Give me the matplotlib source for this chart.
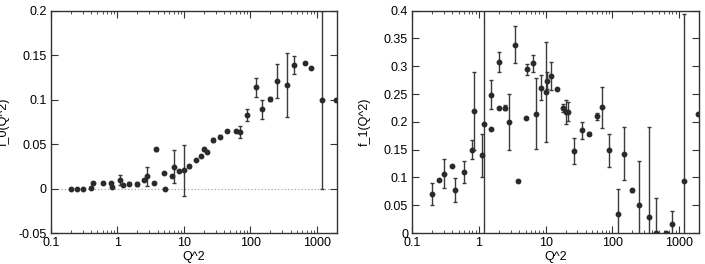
import matplotlib
matplotlib.use("Agg")
import matplotlib.pyplot as plt
from matplotlib.ticker import LogLocator, NullFormatter

plt.rcParams["font.family"] = ["Liberation Sans", "DejaVu Sans"]
plt.rcParams["font.size"] = 9

# f_0(Q^2): Q^2, value, symmetric error
q2_f0 = [0.2, 0.25, 0.3, 0.4, 0.43, 0.6, 0.8, 0.84, 1.1, 1.2, 1.5, 2.0,
         2.5, 2.8, 3.5, 3.8, 5.0, 5.2, 6.5, 7.2, 8.4, 10, 12, 15, 18, 20,
         22, 27, 35, 45, 60, 70, 90, 120, 150, 200, 250, 350, 450, 650,
         800, 1200, 1950]
f0 = [0.0, 0.0, 0.0, 0.001, 0.0067, 0.0067, 0.006, 0.002, 0.0097, 0.004,
      0.0055, 0.005, 0.0097, 0.0138, 0.0067, 0.044, 0.0176, 0.0, 0.0138,
      0.0244, 0.020, 0.0205, 0.025, 0.032, 0.037, 0.044, 0.041, 0.0547,
      0.0584, 0.0644, 0.0652, 0.0637, 0.083, 0.114, 0.089, 0.101, 0.121,
      0.116, 0.139, 0.141, 0.136, 0.1, 0.1]
f0_err = [0, 0, 0, 0, 0.001, 0.001, 0.0005, 0.0005, 0.0055, 0, 0.002,
          0.002, 0.001, 0.0105, 0.001, 0.0015, 0, 0, 0, 0.0187, 0, 0.0285,
          0.002, 0, 0, 0.002, 0.001, 0.0025, 0.0015, 0.001, 0.001, 0.0068,
          0.0065, 0.0105, 0.0107, 0.0025, 0.0187, 0.036, 0.0103, 0.001, 0,
          0.1, 0]

# f_1(Q^2): Q^2, value, symmetric error
q2_f1 = [0.2, 0.25, 0.3, 0.4, 0.43, 0.6, 0.8, 0.84, 1.1, 1.2, 1.5, 1.5,
         2.0, 2.0, 2.5, 2.8, 3.5, 3.8, 5.0, 5.2, 6.5, 7.2, 8.4, 10, 10.5,
         12, 15, 18, 20, 22, 27, 35, 45, 60, 70, 90, 120, 150, 200, 250,
         350, 450, 650, 800, 1200, 1950]
f1 = [0.070, 0.095, 0.107, 0.121, 0.077, 0.110, 0.150, 0.2195, 0.140,
      0.197, 0.249, 0.187, 0.308, 0.2255, 0.2255, 0.200, 0.339, 0.093,
      0.2075, 0.2945, 0.305, 0.215, 0.261, 0.254, 0.274, 0.283, 0.259,
      0.2255, 0.218, 0.218, 0.148, 0.185, 0.179, 0.210, 0.226, 0.149,
      0.035, 0.143, 0.077, 0.051, 0.029, 0.0, 0.0, 0.0167, 0.094, 0.215]
f1_err = [0.0205, 0.002, 0.0255, 0, 0.0215, 0.0198, 0.017, 0.0695, 0.039,
          0.5, 0.0255, 0, 0.0185, 0, 0.004, 0.0505, 0.034, 0, 0, 0.0095,
          0.015, 0.064, 0.0225, 0.0895, 0.015, 0.025, 0, 0.0075, 0.021,
          0.017, 0.0235, 0.015, 0.002, 0.0068, 0.0375, 0.030, 0.045, 0.048,
          0.003, 0.078, 0.162, 0.063, 0.001, 0.023, 0.30, 0]

xticks = [0.1, 1, 10, 100, 1000]
xtick_labels = ["0.1", "1", "10", "100", "1000"]
f0_yticks = [-0.05, 0, 0.05, 0.1, 0.15, 0.2]
f0_ytick_labels = ["-0.05", "0", "0.05", "0.1", "0.15", "0.2"]
f1_yticks = [0, 0.05, 0.1, 0.15, 0.2, 0.25, 0.3, 0.35, 0.4]
f1_ytick_labels = ["0", "0.05", "0.1", "0.15", "0.2", "0.25", "0.3",
                   "0.35", "0.4"]

fig = plt.figure(figsize=(7.05, 2.64), dpi=100)
ax0 = fig.add_axes([0.0723, 0.1174, 0.4057, 0.8421])
ax1 = fig.add_axes([0.5848, 0.1174, 0.4067, 0.8421])


def style_axis(ax, q2, vals, errs, yticks, ylabels, ylim, ylabel, label_x):
    ax.errorbar(q2, vals, yerr=errs, fmt="o", ms=3.2, color="#2a2a2a",
                ecolor="#3a3a3a", elinewidth=1.0, capsize=1.6, capthick=1.0)
    ax.set_xscale("log")
    ax.set_xlim(0.1, 2000)
    ax.set_ylim(*ylim)
    ax.set_xticks(xticks)
    ax.set_xticklabels(xtick_labels)
    ax.xaxis.set_minor_locator(LogLocator(base=10, subs=range(2, 10), numticks=20))
    ax.xaxis.set_minor_formatter(NullFormatter())
    ax.set_yticks(yticks)
    ax.set_yticklabels(ylabels)
    ax.tick_params(which="both", direction="in", top=True, right=True,
                   color="#333333", pad=3)
    ax.tick_params(which="major", length=5, width=0.8)
    ax.tick_params(which="minor", length=2.5, width=0.6)
    for sp in ax.spines.values():
        sp.set_linewidth(1.0)
        sp.set_color("#333333")
    ax.set_xlabel("Q^2", labelpad=1)
    fig.text(label_x, 0.538, ylabel, rotation=90, ha="center", va="center")


style_axis(ax0, q2_f0, f0, f0_err, f0_yticks, f0_ytick_labels,
           (-0.05, 0.2), "f_0(Q^2)", 0.006)
ax0.axhline(0, color="#999999", lw=0.8, ls=(0, (1, 2)), zorder=0)

style_axis(ax1, q2_f1, f1, f1_err, f1_yticks, f1_ytick_labels,
           (0, 0.4), "f_1(Q^2)", 0.518)

fig.savefig("out.png", dpi=100)
